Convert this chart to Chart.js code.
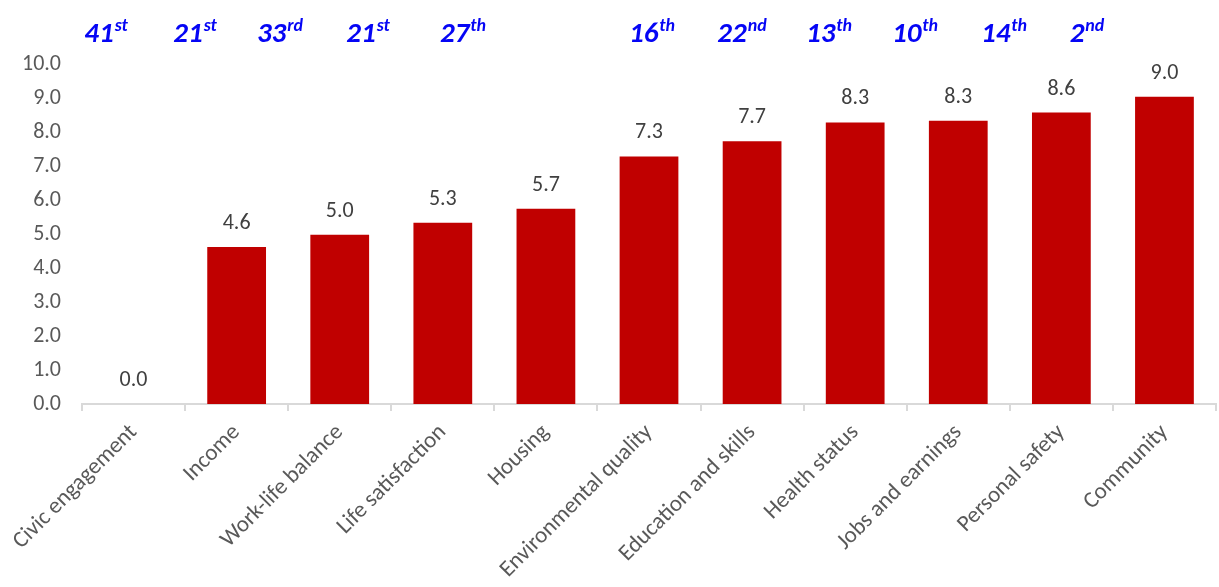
<!DOCTYPE html>
<html>
<head>
<meta charset="utf-8">
<script src="https://cdn.jsdelivr.net/npm/chart.js@4"></script>
<style>
html,body{margin:0;padding:0;background:#fff;}
#wrap{width:1219px;height:587px;position:relative;}
</style>
</head>
<body>
<div id="wrap"><canvas id="c" width="1219" height="587"></canvas></div>
<script>
// ---- data ----
const categories = ["Civic engagement","Income","Work-life balance","Life satisfaction","Housing","Environmental quality","Education and skills","Health status","Jobs and earnings","Personal safety","Community"];
const scores = [0.0, 4.62, 4.98, 5.33, 5.74, 7.28, 7.73, 8.28, 8.33, 8.57, 9.04];
const rankNumbers = ["41","21","33","21","27","16","22","13","10","14","2"];
const rankSuffixes = ["st","st","rd","st","th","th","nd","th","th","th","nd"];
const yTicks = [0,1,2,3,4,5,6,7,8,9,10];

// ---- layout (annotation row centres, px) ----
const rankX = [106, 195, 280, 368, 463, 652, 742, 829, 915, 1004, 1087];
const FONT = "Carlito, Lato, 'Open Sans', sans-serif";

const rankPlugin = {
  id: 'ranks',
  afterDraw(chart) {
    const ctx = chart.ctx;
    ctx.save();
    ctx.fillStyle = '#0505f5';
    ctx.textBaseline = 'alphabetic';
    rankNumbers.forEach((n, i) => {
      const big = "italic 900 29px " + FONT;
      const small = "italic 900 18px " + FONT;
      ctx.font = big; const w1 = ctx.measureText(n).width;
      ctx.font = small; const w2 = ctx.measureText(rankSuffixes[i]).width;
      const x0 = rankX[i] - (w1 + w2 + 1) / 2;
      ctx.font = big; ctx.textAlign = 'left';
      ctx.fillText(n, x0, 42);
      ctx.font = small;
      ctx.fillText(rankSuffixes[i], x0 + w1 + 1, 31);
    });
    ctx.restore();
  }
};

const valuePlugin = {
  id: 'values',
  afterDatasetsDraw(chart) {
    const ctx = chart.ctx;
    const meta = chart.getDatasetMeta(0);
    ctx.save();
    ctx.font = "22px " + FONT;
    ctx.fillStyle = '#404040';
    ctx.textAlign = 'center';
    ctx.textBaseline = 'alphabetic';
    meta.data.forEach((bar, i) => {
      ctx.fillText(scores[i].toFixed(1), bar.x, bar.y - 18);
    });
    ctx.restore();
  }
};

new Chart(document.getElementById('c'), {
  type: 'bar',
  data: {
    labels: categories,
    datasets: [{
      data: scores,
      backgroundColor: '#C00000',
      borderWidth: 0,
      categoryPercentage: 1,
      barPercentage: 0.57
    }]
  },
  options: {
    responsive: false,
    animation: false,
    devicePixelRatio: 1,
    layout: { padding: { top: 64, right: 3, left: 0, bottom: 0 } },
    plugins: { legend: { display: false }, tooltip: { enabled: false } },
    scales: {
      y: {
        min: 0, max: 10,
        afterBuildTicks(axis) { axis.ticks = yTicks.map(v => ({ value: v })); },
        afterFit(axis) { axis.width = 82; },
        grid: { display: false, drawTicks: false },
        border: { display: false },
        ticks: {
          padding: 21,
          color: '#595959',
          font: { family: FONT, size: 22 },
          callback: v => Number(v).toFixed(1)
        }
      },
      x: {
        afterFit(axis) { axis.height = 183; },
        grid: { display: true, offset: true, drawOnChartArea: false, drawTicks: true, tickLength: 7, color: '#d9d9d9', lineWidth: 2 },
        border: { display: true, color: '#d9d9d9', width: 2 },
        ticks: {
          minRotation: 45, maxRotation: 45,
          autoSkip: false,
          padding: 8,
          color: '#595959',
          font: { family: FONT, size: 23 }
        }
      }
    }
  },
  plugins: [rankPlugin, valuePlugin]
});
</script>
</body>
</html>
